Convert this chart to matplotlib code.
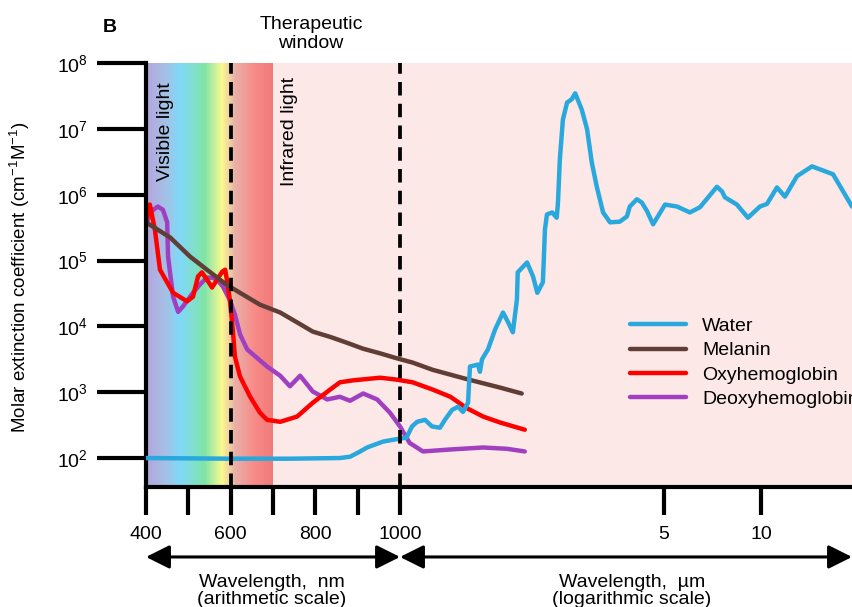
import numpy as np
import matplotlib
matplotlib.use('Agg')
import matplotlib.pyplot as plt
from matplotlib.colors import LinearSegmentedColormap
from matplotlib.ticker import LogFormatterMathtext, NullLocator

plt.rcParams['font.family'] = ['Liberation Sans', 'DejaVu Sans']
plt.rcParams['mathtext.fontset'] = 'custom'
plt.rcParams['mathtext.rm'] = 'Liberation Sans'
plt.rcParams['mathtext.it'] = 'Liberation Sans:italic'
plt.rcParams['mathtext.bf'] = 'Liberation Sans:bold'

# absorption spectra, wavelength in nm, values as log10 of the molar
# extinction coefficient (cm-1 M-1)
water_nm = [400, 598, 740, 858, 882, 906, 922, 960, 995,
            1040, 1076, 1110, 1165, 1215, 1276, 1315, 1373, 1424, 1468,
            1514, 1532, 1609, 1628, 1649, 1710, 1785, 1874, 1930, 1990,
            2040, 2050, 2170, 2250, 2310, 2390, 2420, 2450, 2530, 2600,
            2620, 2650, 2700, 2770, 2850, 2910, 3030, 3130, 3220, 3320,
            3450, 3600, 3820, 3990, 4060, 4240, 4370, 4510, 4680, 5040,
            5490, 6020, 6470, 7300, 7570, 7730, 8420, 9110, 9930, 10440,
            11210, 11870, 12930, 14400, 16740, 19170]
water_log = [2.00, 1.99, 1.99, 2.00, 2.02, 2.10, 2.16, 2.25, 2.29,
             2.31, 2.48, 2.55, 2.58, 2.48, 2.46, 2.58, 2.73, 2.78, 2.70,
             2.84, 3.39, 3.42, 3.31, 3.50, 3.65, 3.95, 4.21, 4.07, 3.91,
             4.41, 4.82, 4.97, 4.76, 4.51, 4.67, 5.47, 5.70, 5.73, 5.65,
             5.88, 6.53, 7.14, 7.40, 7.45, 7.54, 7.29, 6.99, 6.49, 6.12,
             5.73, 5.58, 5.59, 5.67, 5.82, 5.93, 5.88, 5.75, 5.55, 5.85,
             5.82, 5.73, 5.81, 6.12, 6.05, 5.96, 5.85, 5.65, 5.82, 5.86,
             6.11, 5.97, 6.28, 6.43, 6.31, 5.82]

melanin_nm = [400, 457, 504, 544, 591, 622, 669, 717, 757, 794,
              835, 875, 913, 953, 995, 1080, 1220, 1500, 1840, 2100]
melanin_log = [5.58, 5.35, 5.06, 4.86, 4.63, 4.51, 4.33, 4.21, 4.06, 3.92,
               3.84, 3.75, 3.66, 3.59, 3.51, 3.45, 3.34, 3.20, 3.07, 2.98]

oxy_nm = [400, 409, 421, 433, 464, 497, 511, 523, 532, 544,
          556, 568, 580, 587, 591, 598, 605, 610, 622, 646,
          669, 686, 717, 757, 794, 835, 858, 889, 953, 993,
          1080, 1220, 1360, 1500, 1660, 1840, 2140]
oxy_log = [5.58, 5.85, 5.47, 4.86, 4.51, 4.38, 4.45, 4.76, 4.82, 4.71,
           4.59, 4.71, 4.83, 4.86, 4.71, 4.41, 3.95, 3.54, 3.24, 2.93,
           2.69, 2.58, 2.55, 2.63, 2.84, 3.04, 3.15, 3.18, 3.22, 3.19,
           3.15, 3.04, 2.93, 2.76, 2.63, 2.54, 2.43]

deoxy_nm = [400, 409, 417, 428, 440, 450, 452, 464, 476, 487,
            511, 528, 544, 556, 568, 582, 598, 610, 622, 639,
            686, 717, 740, 764, 794, 828, 858, 882, 913, 946,
            976, 1000, 1060, 1150, 1360, 1660, 1920, 2140]
deoxy_log = [5.55, 5.70, 5.77, 5.82, 5.77, 5.58, 5.06, 4.45, 4.22, 4.30,
             4.51, 4.64, 4.74, 4.74, 4.71, 4.60, 4.40, 4.18, 3.88, 3.65,
             3.39, 3.25, 3.09, 3.25, 3.01, 2.89, 2.93, 2.87, 2.98, 2.89,
             2.69, 2.48, 2.23, 2.10, 2.13, 2.16, 2.14, 2.10]

x_ticks = [400, 500, 600, 700, 800, 900, 1000, 5000, 10000]
x_ticklabels = ['400', '', '600', '', '800', '', '1000', '5', '10']

# colours of the visible / near infrared band behind the curves
band_nm = [400, 445, 480, 516, 539, 563, 580, 596, 610, 657, 700]
band_colors = ['#b4a4dc', '#a4c0e4', '#80d8f8', '#80e0c8', '#80e4a4',
               '#c8f09c', '#fafa8c', '#f0d4a0', '#e8b0a8', '#f88a88', '#f07a7a']


# x axis: arithmetic in nm up to 1000, then logarithmic in um
def wl_fwd(w):
    w = np.asarray(w, dtype=float)
    lin = (w - 400.0) / 600.0
    dec = np.log10(np.clip(w, 1.0, None) / 1000.0)
    lg = np.interp(dec, [0.0, np.log10(5), 1.0], [1.0, 2.039, 2.421])
    lg = np.where(dec > 1.0, 2.421 + (dec - 1.0) * 1.268, lg)
    return np.where(w <= 1000, lin, lg)


def wl_inv(u):
    u = np.asarray(u, dtype=float)
    lin = 400.0 + u * 600.0
    dec = np.interp(u, [1.0, 2.039, 2.421], [0.0, np.log10(5), 1.0])
    dec = np.where(u > 2.421, 1.0 + (u - 2.421) / 1.268, dec)
    return np.where(u <= 1.0, lin, 1000.0 * 10.0 ** dec)


fig = plt.figure(figsize=(8.52, 6.07), dpi=100)
ax = fig.add_axes([146 / 852, 120 / 607, 706 / 852, 424 / 607])
ax.set_xscale('function', functions=(wl_fwd, wl_inv))
ax.set_yscale('log')
ylo, yhi = 10 ** 1.56, 1e8
ax.set_xlim(400, 19170)
ax.set_ylim(ylo, yhi)
ax.set_facecolor('#fde8e8')

# spectrum gradient 400-700 nm
cmap = LinearSegmentedColormap.from_list(
    'band', [((w - 400) / 300.0, c) for w, c in zip(band_nm, band_colors)])
edges = np.linspace(400, 700, 301)
centers = 0.5 * (edges[:-1] + edges[1:])
ax.pcolormesh(edges, [ylo, yhi], centers[np.newaxis, :], cmap=cmap,
              vmin=400, vmax=700, shading='flat', antialiased=False,
              edgecolors='none', zorder=0)

lw = 3.2
style = dict(lw=lw, solid_joinstyle='round', solid_capstyle='round')
l_deoxy, = ax.plot(deoxy_nm, 10.0 ** np.array(deoxy_log), color='#a040c0', zorder=2, **style)
l_oxy, = ax.plot(oxy_nm, 10.0 ** np.array(oxy_log), color='#ff0000', zorder=2, **style)
l_mel, = ax.plot(melanin_nm, 10.0 ** np.array(melanin_log), color='#613e35', zorder=2, **style)
l_water, = ax.plot(water_nm, 10.0 ** np.array(water_log), color='#29a8dd', zorder=3, **style)

# therapeutic window boundaries
for w in (600, 1000):
    ax.axvline(w, color='k', lw=2.7, linestyle=(0, (3.6, 2.2)), zorder=4)

ax.text(445, 10 ** 6.96, 'Visible light', rotation=90, ha='center', va='center', fontsize=14)
ax.text(740, 10 ** 6.96, 'Infrared light', rotation=90, ha='center', va='center', fontsize=14)

ax.legend([l_water, l_mel, l_oxy, l_deoxy],
          ['Water', 'Melanin', 'Oxyhemoglobin', 'Deoxyhemoglobin'],
          loc='upper left', bbox_to_anchor=(0.6856, 0.40), frameon=False,
          fontsize=14, handlelength=2.9, handletextpad=0.8,
          labelspacing=0.35, borderpad=0, borderaxespad=0)

# axes styling
for s in ('top', 'right'):
    ax.spines[s].set_visible(False)
for s in ('left', 'bottom'):
    ax.spines[s].set_linewidth(3)
ax.set_xticks(x_ticks)
ax.set_xticklabels(x_ticklabels)
ax.xaxis.set_minor_locator(NullLocator())
ax.set_yticks([1e2, 1e3, 1e4, 1e5, 1e6, 1e7, 1e8])
ax.yaxis.set_major_formatter(LogFormatterMathtext())
ax.yaxis.set_minor_locator(NullLocator())
ax.tick_params(axis='y', length=35, width=3, pad=7, labelsize=14)
ax.tick_params(axis='x', length=20, width=3, pad=8, labelsize=14)

# wavelength range arrows under the axis
arrow = dict(arrowstyle='<|-|>,head_length=0.6,head_width=0.3', mutation_scale=24,
             lw=2.2, color='k', shrinkA=0, shrinkB=0)
ax.annotate('', xy=(1000, -0.165), xytext=(400, -0.165),
            xycoords=('data', 'axes fraction'), textcoords=('data', 'axes fraction'),
            arrowprops=arrow, annotation_clip=False)
ax.annotate('', xy=(1.0, -0.165), xytext=(1000, -0.165),
            xycoords='axes fraction', textcoords=('data', 'axes fraction'),
            arrowprops=arrow, annotation_clip=False)
ax.text(0.178, -0.245, 'Wavelength,  nm\n(arithmetic scale)', transform=ax.transAxes,
        ha='center', va='center', fontsize=14, linespacing=1.05)
ax.text(0.688, -0.245, 'Wavelength,  \u00b5m\n(logarithmic scale)', transform=ax.transAxes,
        ha='center', va='center', fontsize=14, linespacing=1.05)

fig.text(20 / 852, 1 - 277 / 607, 'Molar extinction coefficient (cm$^{-1}$M$^{-1}$)',
         rotation=90, ha='center', va='center', fontsize=13.5)
fig.text(110 / 852, 1 - 28 / 607, 'B', fontweight='bold', fontsize=14, ha='center', va='center')
fig.text(311 / 852, 1 - 34 / 607, 'Therapeutic\nwindow', ha='center', va='center',
         fontsize=14, linespacing=1.1)

fig.savefig('out.png', dpi=100)
